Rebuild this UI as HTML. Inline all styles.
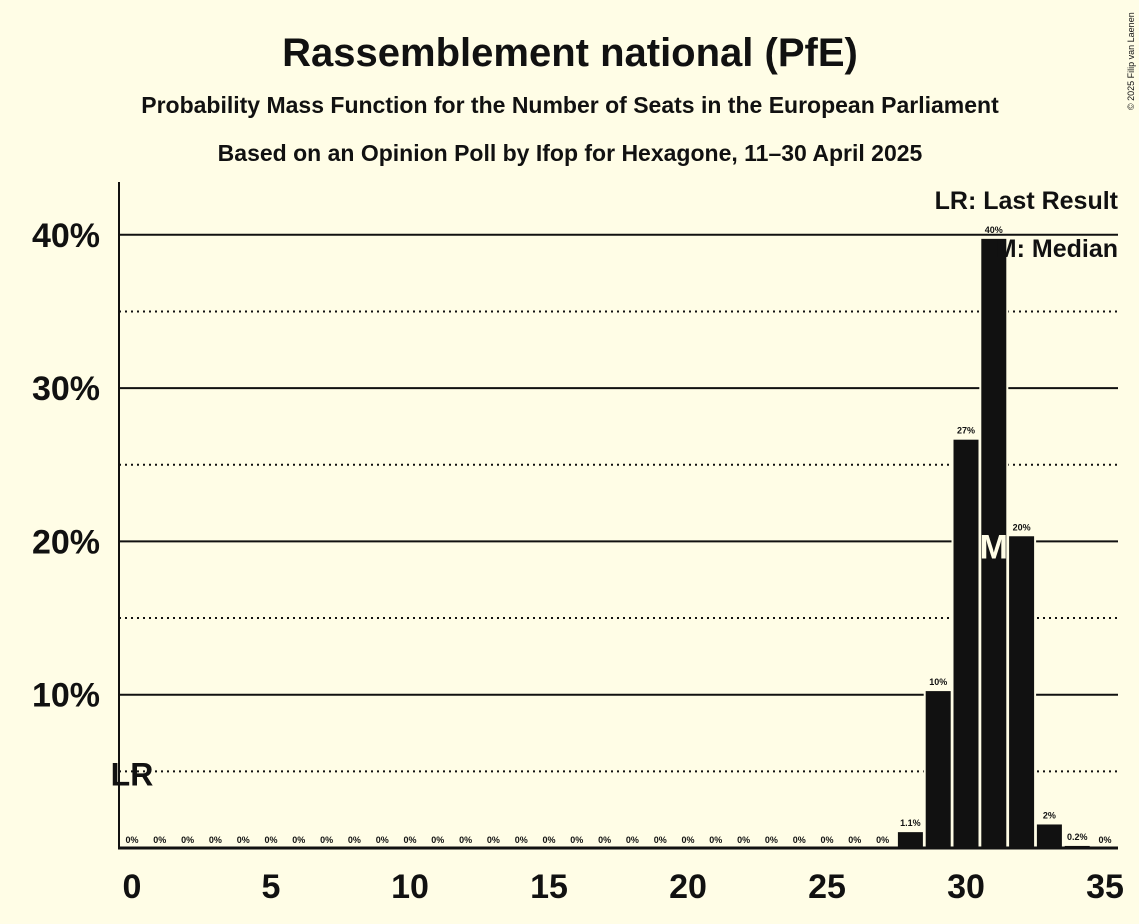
<!DOCTYPE html>
<html><head><meta charset="utf-8"><style>
body{margin:0;background:#fffde6;}
svg{display:block;font-family:"Liberation Sans",sans-serif;}
</style></head><body>
<svg width="1139" height="924" xmlns="http://www.w3.org/2000/svg">
<rect width="1139" height="924" fill="#fffde6"/>
<text x="570" y="66" text-anchor="middle" font-size="40" font-weight="bold" fill="#111">Rassemblement national (PfE)</text>
<text x="570" y="113" text-anchor="middle" font-size="23" font-weight="bold" fill="#111">Probability Mass Function for the Number of Seats in the European Parliament</text>
<text x="570" y="161" text-anchor="middle" font-size="23" font-weight="bold" fill="#111">Based on an Opinion Poll by Ifop for Hexagone, 11–30 April 2025</text>
<text x="1134" y="110" font-size="9" fill="#111" transform="rotate(-90 1134 110)">© 2025 Filip van Laenen</text>
<g id="grid"></g>
<g id="bars"></g>
<g id="axes"></g>
<text x="1118" y="209" text-anchor="end" font-size="25" font-weight="bold" fill="#111">LR: Last Result</text>
<text x="1118" y="257" text-anchor="end" font-size="25" font-weight="bold" fill="#111">M: Median</text>
</svg>
<script>
const seats = [];
for (let i = 0; i <= 35; i++) seats.push(i);
const probs = [0,0,0,0,0,0,0,0,0,0,0,0,0,0,0,0,0,0,0,0,0,0,0,0,0,0,0,0,1.1,10.3,26.7,39.8,20.4,1.6,0.2,0];
const labels = ["0%","0%","0%","0%","0%","0%","0%","0%","0%","0%","0%","0%","0%","0%","0%","0%","0%","0%","0%","0%","0%","0%","0%","0%","0%","0%","0%","0%","1.1%","10%","27%","40%","20%","2%","0.2%","0%"];
const yTicks = [10,20,30,40];
const yMinor = [5,15,25,35];
const xTicks = [0,5,10,15,20,25,30,35];
const median = 31, lastResult = 0;
const NS="http://www.w3.org/2000/svg";
const X = s => 132 + s*27.8;
const Y = v => 848 - v*15.33;
function mk(tag, attrs, parent){const e=document.createElementNS(NS,tag);for(const k in attrs)e.setAttribute(k,attrs[k]);parent.appendChild(e);return e;}
const grid=document.getElementById('grid'), bars=document.getElementById('bars'), axes=document.getElementById('axes');
yMinor.forEach(v=>{const l=mk('line',{x1:119,x2:1118,y1:Y(v),y2:Y(v),stroke:'#111','stroke-width':2,'stroke-dasharray':'2,4'},grid);

});
yTicks.forEach(v=>{const l=mk('line',{x1:119,x2:1118,y1:Y(v),y2:Y(v),stroke:'#111','stroke-width':2},grid);


const t=mk('text',{x:100,y:Y(v)+12,'text-anchor':'end','font-size':34,'font-weight':'bold',fill:'#111'},axes);t.textContent=v+'%';

});
seats.forEach((s,i)=>{const v=probs[i];
if(v>0){const r=mk('rect',{x:X(s)-13.5,y:Y(v),width:27,height:848-Y(v),fill:'#111',stroke:'#fffde6','stroke-width':2},bars);

}
const t=mk('text',{x:X(s),y:Y(v)-5,'text-anchor':'middle','font-size':9,'font-weight':'bold',fill:'#111'},bars);t.textContent=labels[i];

});
const mi=seats.indexOf(median);
const m=mk('text',{x:X(median),y:Y(20)+17,'text-anchor':'middle','font-size':34,'font-weight':'bold',fill:'#fffde6'},bars);m.textContent='M';


const lr=mk('text',{x:X(lastResult),y:Y(5)+14,'text-anchor':'middle','font-size':32,'font-weight':'bold',fill:'#111'},bars);lr.textContent='LR';


const ya=mk('line',{x1:119,x2:119,y1:182,y2:849,stroke:'#111','stroke-width':2},axes);


const xa=mk('line',{x1:118,x2:1118,y1:848,y2:848,stroke:'#111','stroke-width':3},axes);


xTicks.forEach(s=>{const t=mk('text',{x:X(s),y:898,'text-anchor':'middle','font-size':34,'font-weight':'bold',fill:'#111'},axes);t.textContent=s;

});
</script>
</body></html>
